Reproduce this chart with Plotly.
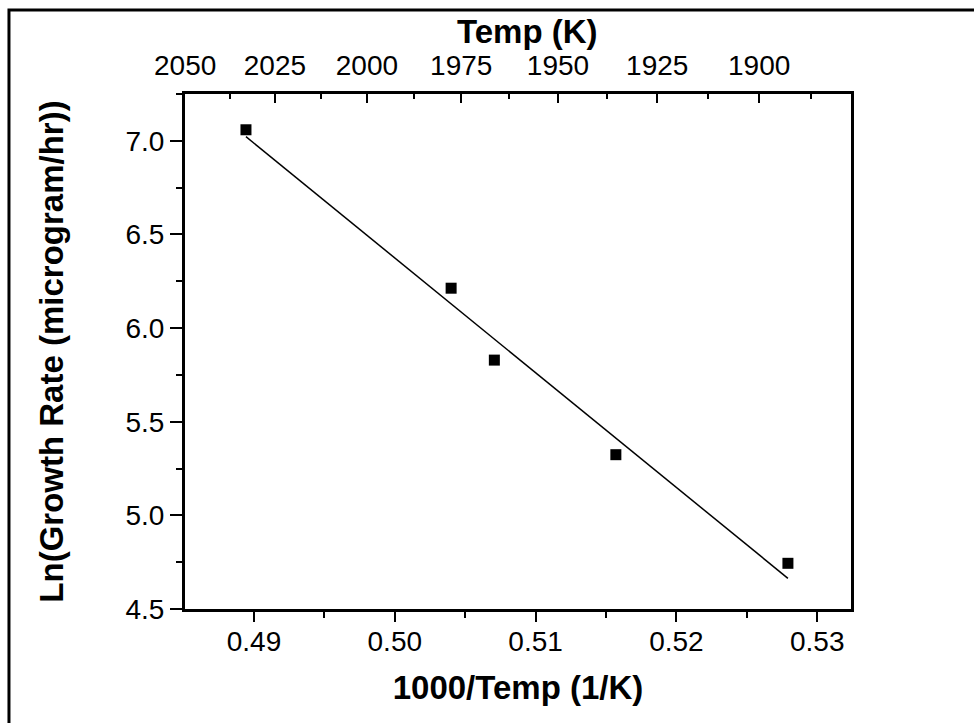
import numpy as np
import plotly.graph_objects as go

# Measured growth data: inverse temperature (1000/T, 1/K) and ln(growth rate)
inv_temp = [0.48943, 0.50400, 0.50707, 0.51570, 0.52792]
ln_rate = [7.059, 6.213, 5.829, 5.324, 4.744]

# Bottom axis ticks
x_ticks = [0.49, 0.50, 0.51, 0.52, 0.53]
y_ticks = [4.5, 5.0, 5.5, 6.0, 6.5, 7.0]

# Top temperature axis (K)
top_temps = [2050, 2025, 2000, 1975, 1950, 1925, 1900]
top_minor_temps = [2037.5, 2012.5, 1987.5, 1962.5, 1937.5, 1912.5, 1887.5]


def temp_to_axis(t):
    """Position of a temperature on the 1000/T scale of the top axis."""
    return 1058.5 / t - 0.03123


X_RANGE = [0.4851, 0.5324]
Y_RANGE = [4.5, 7.25]

# Linear fit through the data
slope, intercept = np.polyfit(inv_temp, ln_rate, 1)
fit_x = [min(inv_temp), max(inv_temp)]
fit_y = [slope * v + intercept for v in fit_x]

TICK_FONT = dict(family="Liberation Sans, Arial, sans-serif", size=28, color="black")
TITLE_FONT = dict(family="Liberation Sans, Arial, sans-serif",
                  size=33, color="black", weight="bold")

fig = go.Figure()

fig.add_trace(go.Scatter(
    x=fit_x, y=fit_y, mode="lines",
    line=dict(color="black", width=1.5),
    showlegend=False, hoverinfo="skip",
))
fig.add_trace(go.Scatter(
    x=inv_temp, y=ln_rate, mode="markers",
    marker=dict(symbol="square", size=11, color="black"),
    showlegend=False,
))
# Invisible trace carrying the top temperature axis
fig.add_trace(go.Scatter(
    x=inv_temp, y=ln_rate, mode="markers", xaxis="x2",
    marker=dict(opacity=0), showlegend=False, hoverinfo="skip",
))

fig.update_layout(
    width=974, height=723,
    margin=dict(l=185, r=123, t=94, b=114),
    paper_bgcolor="white", plot_bgcolor="white",
    xaxis=dict(
        range=X_RANGE, tickmode="array", tickvals=x_ticks,
        ticktext=[f"{v:.2f}" for v in x_ticks],
        ticks="outside", ticklen=10, tickwidth=2, tickcolor="black",
        minor=dict(ticks="outside", ticklen=6, tickwidth=2, tickcolor="black",
                   tickmode="array",
                   tickvals=[v + 0.005 for v in [0.485] + x_ticks]),
        showline=True, linewidth=3, linecolor="black", mirror=True,
        showgrid=False, zeroline=False,
        ticklabelstandoff=-5,
        tickfont=TICK_FONT,
        title=dict(text="1000/Temp (1/K)", font=TITLE_FONT, standoff=21),
    ),
    xaxis2=dict(
        overlaying="x", side="top", range=X_RANGE,
        tickmode="array", tickvals=[temp_to_axis(t) for t in top_temps],
        ticktext=[str(t) for t in top_temps],
        ticks="inside", ticklen=9, tickwidth=2, tickcolor="black",
        minor=dict(ticks="inside", ticklen=5, tickwidth=2, tickcolor="black",
                   tickmode="array",
                   tickvals=[temp_to_axis(t) for t in top_minor_temps]),
        showline=False, showgrid=False, zeroline=False,
        ticklabelstandoff=12,
        tickfont=TICK_FONT,
    ),
    yaxis=dict(
        range=Y_RANGE, tickmode="array", tickvals=y_ticks,
        ticktext=[f"{v:.1f}" for v in y_ticks],
        ticks="outside", ticklen=12, tickwidth=2, tickcolor="black",
        minor=dict(ticks="outside", ticklen=6, tickwidth=2, tickcolor="black",
                   tickmode="array",
                   tickvals=[v + 0.25 for v in y_ticks]),
        showline=True, linewidth=3, linecolor="black", mirror=True,
        showgrid=False, zeroline=False,
        tickfont=TICK_FONT,
        title=dict(text="Ln(Growth Rate (microgram/hr))",
                   font=dict(family="Liberation Sans, Arial, sans-serif",
                             size=33, color="black", weight="bold"),
                   standoff=52),
    ),
    annotations=[dict(
        text="Temp (K)", xref="paper", yref="paper",
        x=0.515, y=1.1223, xanchor="center", yanchor="middle",
        showarrow=False, font=TITLE_FONT,
    )],
    shapes=[dict(
        type="rect", xref="paper", yref="paper",
        x0=-0.2643, x1=1.4, y0=-0.4, y1=1.1631,
        line=dict(color="black", width=3), layer="below",
    )],
)

fig.write_html("out.html")
